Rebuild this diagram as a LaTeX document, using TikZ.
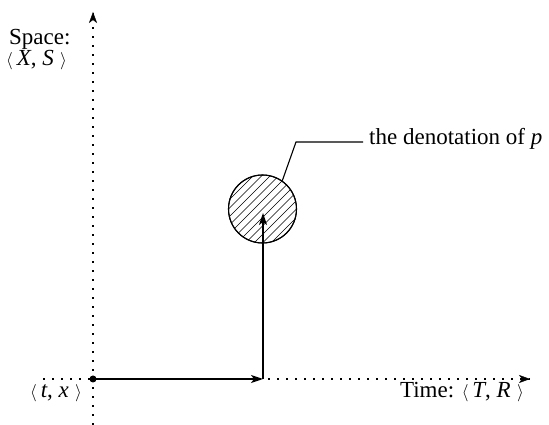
\documentclass[tikz,border=0pt]{standalone}
\usepackage{fontspec}
\setmainfont{Liberation Serif}
\usetikzlibrary{arrows.meta,calc}
\newcommand{\myla}{{\fontsize{19}{19}\selectfont$\langle$}}
\newcommand{\myra}{{\fontsize{19}{19}\selectfont$\rangle$}}
\tikzset{
  axisline/.style={line width=1.6pt, dash pattern=on 1.6pt off 7.4pt, line cap=butt},
  solidarrow/.style={line width=1.2pt, -{Stealth[length=12pt,width=8pt,inset=3pt]}},
  axisarrow/.style={-{Stealth[length=11pt,width=8pt,inset=3pt]}},
  lbl/.style={inner sep=0pt, font=\fontsize{23}{27}\selectfont},
  hatch/.style={line width=0.7pt},
  leader/.style={line width=1.1pt}
}
\begin{document}
\begin{tikzpicture}[x=1pt,y=1pt]
\useasboundingbox (0,0) rectangle (549,425);
% named points
\coordinate (O) at (93,46);
\coordinate (T) at (263,46);
\coordinate (ybot) at (93,0);
\coordinate (ytop) at (93,413);
\coordinate (xleft) at (43,46);
\coordinate (xright) at (530,46);
\node[circle, draw, line width=1pt, minimum size=68pt, inner sep=0pt] (den) at (262.5,216) {};
% hatching
\begin{scope}
  \clip (262.5,216) circle (34pt);
  \foreach \d in {-68,-59.5,...,68} {
    \draw[hatch] ($(262.5,216)+(\d/2,-\d/2)+(-60,-60)$) -- ($(262.5,216)+(\d/2,-\d/2)+(60,60)$);
  }
\end{scope}
\draw[line width=1.1pt] (den) circle (34pt);
% axes
\draw[axisline] (ybot) -- (ytop);
\draw[axisarrow] ($(ytop)+(0,-1)$) -- (ytop);
\draw[axisline] (xleft) -- (xright);
\draw[axisarrow] ($(xright)+(-1,0)$) -- (xright);
% paths
\draw[solidarrow] (O) -- (T);
\coordinate (tip) at (263,212);
\draw[solidarrow] (T) -- (tip);
\fill (O) circle (3.5pt);
% leader
\coordinate (k1) at (296,283);
\coordinate (k2) at (363,283);
\draw[leader] (den.55) -- (k1) -- (k2);
\node[lbl, anchor=base west] (denlbl) at (369,280) {the denotation of \textit{p}};
% labels
\node[lbl, anchor=base west] (space) at (9,380) {Space:};
\node[lbl, anchor=base west] (xs) at (6,359) {\myla\,\textit{X}, \textit{S}\;\myra};
\node[lbl, anchor=base west] (tx) at (30,27) {\myla\,\textit{t}, \textit{x}\;\myra};
\node[lbl, anchor=base east] (time) at (524,27) {Time: \myla\,\textit{T}, \textit{R}\;\myra};
\end{tikzpicture}
\end{document}
